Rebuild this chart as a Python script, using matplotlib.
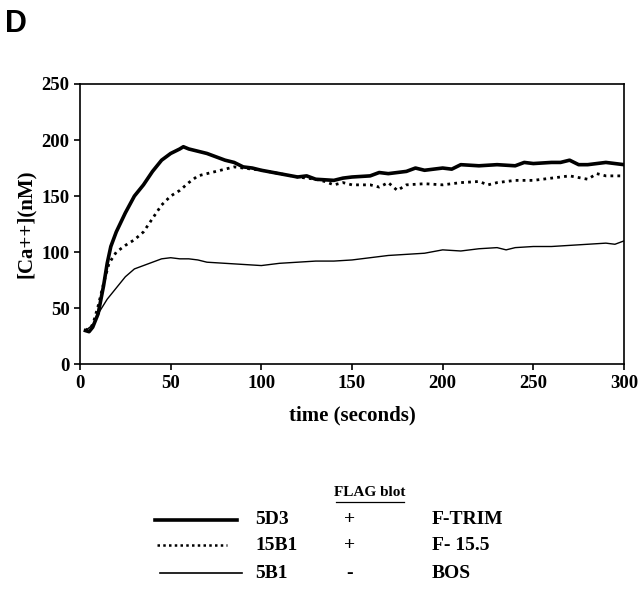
import matplotlib.pyplot as plt
from matplotlib.lines import Line2D

plt.rcParams['font.family'] = ['Liberation Serif', 'DejaVu Serif']
plt.rcParams['font.weight'] = 'bold'

# 5D3 / F-TRIM (thick line)
t_5d3 = [3, 5, 7, 10, 13, 15, 17, 20, 25, 30, 35, 40, 45, 50, 55, 57, 60, 65, 70, 75,
         80, 85, 90, 95, 100, 110, 120, 125, 130, 140, 145, 150, 160, 165, 170, 180, 185,
         190, 200, 205, 210, 220, 230, 240, 245, 250, 260, 265, 270, 275, 280, 290, 300]
ca_5d3 = [30, 29, 33, 45, 70, 90, 105, 118, 135, 150, 160, 172, 182, 188, 192, 194, 192,
          190, 188, 185, 182, 180, 176, 175, 173, 170, 167, 168, 165, 164, 166, 167, 168,
          171, 170, 172, 175, 173, 175, 174, 178, 177, 178, 177, 180, 179, 180, 180, 182,
          178, 178, 180, 178]

# 15B1 / F-15.5 (dotted line)
t_15b1 = [3, 7, 10, 13, 16, 20, 25, 30, 35, 40, 45, 50, 55, 60, 65, 70, 75, 80, 85, 90,
          100, 110, 120, 130, 135, 140, 145, 150, 160, 165, 170, 175, 180, 190, 200, 210,
          220, 225, 230, 240, 250, 260, 270, 280, 285, 290, 300]
ca_15b1 = [30, 35, 52, 72, 90, 100, 106, 111, 118, 130, 142, 150, 155, 162, 168, 170, 172,
           174, 176, 175, 173, 170, 167, 165, 163, 160, 162, 160, 160, 158, 162, 155, 160,
           161, 160, 162, 163, 160, 162, 164, 164, 166, 168, 165, 170, 168, 168]

# 5B1 / BOS (thin line)
t_5b1 = [3, 7, 10, 15, 20, 25, 30, 35, 40, 45, 50, 55, 60, 65, 70, 80, 90, 100, 110, 120,
         130, 140, 150, 160, 170, 180, 190, 200, 210, 220, 230, 235, 240, 250, 260, 270,
         280, 290, 295, 300]
ca_5b1 = [30, 35, 45, 58, 68, 78, 85, 88, 91, 94, 95, 94, 94, 93, 91, 90, 89, 88, 90, 91,
          92, 92, 93, 95, 97, 98, 99, 102, 101, 103, 104, 102, 104, 105, 105, 106, 107,
          108, 107, 110]

fig = plt.figure(figsize=(6.4, 6.04), dpi=100)
ax = fig.add_axes([0.125, 0.397, 0.85, 0.464])

ax.plot(t_5d3, ca_5d3, color='k', lw=2.6)
ax.plot(t_15b1, ca_15b1, color='k', lw=2, linestyle=(0, (1, 1.5)))
ax.plot(t_5b1, ca_5b1, color='k', lw=1)

ax.set_xlim(0, 300)
ax.set_ylim(0, 250)
ax.set_xticks(range(0, 301, 50))
ax.set_yticks(range(0, 251, 50))
ax.tick_params(direction='out', length=4, width=1.2, labelsize=13.5)
for lab in ax.get_xticklabels() + ax.get_yticklabels():
    lab.set_fontweight('bold')
for s in ax.spines.values():
    s.set_linewidth(1.2)
ax.set_xlabel('time (seconds)', fontsize=15, fontweight='bold', labelpad=10)
ax.set_ylabel('[Ca++](nM)', fontsize=15, fontweight='bold', labelpad=4)

fig.text(0.008, 0.985, 'D', fontsize=22, fontweight='bold', family='Liberation Sans',
         va='top', ha='left')

# legend table
fig.text(370 / 640, 1 - 493 / 604, 'FLAG blot', fontsize=11, fontweight='bold',
         ha='center', va='center')
fig.add_artist(Line2D([336 / 640, 404 / 640], [1 - 502 / 604, 1 - 502 / 604],
                      color='k', lw=0.9))

rows = [
    ('5D3', '+', 'F-TRIM', 520, 155, 237, dict(lw=2.6)),
    ('15B1', '+', 'F- 15.5', 545, 157, 227, dict(lw=1.8, linestyle=(0, (1, 1.3)))),
    ('5B1', '-', 'BOS', 573, 160, 242, dict(lw=1.2)),
]
for name, sign, prot, y, x0, x1, style in rows:
    yf = 1 - y / 604
    fig.add_artist(Line2D([x0 / 640, x1 / 640], [yf, yf], color='k', **style))
    fig.text(255 / 640, yf, name, fontsize=14, fontweight='bold', va='center')
    fig.text(350 / 640, yf, sign, fontsize=14, fontweight='bold', va='center', ha='center')
    fig.text(432 / 640, yf, prot, fontsize=14, fontweight='bold', va='center')

fig.savefig('out.png', dpi=100)
